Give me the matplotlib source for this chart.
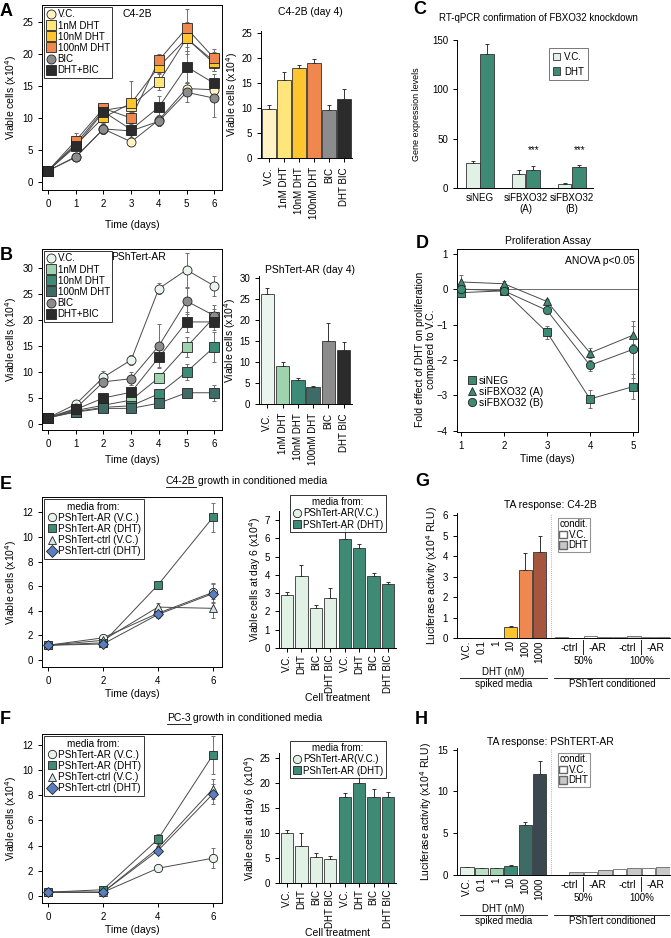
import matplotlib
matplotlib.use("Agg")
import matplotlib.pyplot as plt
from matplotlib.lines import Line2D
from matplotlib.patches import Patch
import numpy as np

plt.rcParams['font.family'] = ['Liberation Sans', 'DejaVu Sans']
plt.rcParams['font.size'] = 6.5
plt.rcParams['axes.linewidth'] = 0.7
plt.rcParams['xtick.major.width'] = 0.7
plt.rcParams['ytick.major.width'] = 0.7
plt.rcParams['xtick.major.size'] = 3
plt.rcParams['ytick.major.size'] = 3

W, H = 671, 938
fig = plt.figure(figsize=(W / 100, H / 100), dpi=100)

# ---------------- DATA ----------------
days7 = [0, 1, 2, 3, 4, 5, 6]
a_labels = ['V.C.', '1nM DHT', '10nM DHT', '100nM DHT', 'BIC', 'DHT+BIC']
a_vc = [1.8, 4.0, 8.3, 6.3, 9.7, 14.6, 14.4]
a_1nm = [1.8, 6.0, 11.2, 11.9, 15.6, 22.4, 18.5]
a_10nm = [1.8, 5.8, 10.1, 12.3, 18.0, 22.4, 18.8]
a_100nm = [1.8, 6.5, 11.5, 10.0, 19.0, 24.0, 19.3]
a_bic = [1.8, 3.9, 8.3, 8.0, 9.5, 14.0, 13.1]
a_dhtbic = [1.8, 5.6, 11.0, 8.2, 11.7, 18.0, 15.4]
a_err_vc = [0.2, 0.4, 0.8, 0.6, 0.8, 1.0, 1.0]
a_err_1nm = [0.2, 0.5, 0.7, 1.0, 1.2, 2.0, 1.2]
a_err_10nm = [0.2, 0.5, 0.8, 3.4, 1.0, 2.5, 1.5]
a_err_100nm = [0.2, 1.2, 0.6, 0.8, 1.0, 3.0, 1.5]
a_err_bic = [0.2, 0.4, 0.8, 1.0, 0.8, 1.5, 3.0]
a_err_dhtbic = [0.2, 0.6, 0.8, 1.5, 1.8, 2.5, 1.5]

a_bar_labels = ['V.C.', '1nM DHT', '10nM DHT', '100nM DHT', 'BIC', 'DHT BIC']
a_bar_vals = [9.7, 15.6, 18.0, 19.0, 9.5, 11.7]
a_bar_err = [0.9, 1.5, 0.6, 0.7, 1.1, 2.0]

b_vc = [1.2, 3.8, 9.0, 12.3, 26.0, 29.6, 26.5]
b_1nm = [1.2, 2.6, 3.6, 4.6, 8.9, 14.8, 20.5]
b_10nm = [1.2, 2.4, 3.2, 3.5, 5.8, 10.0, 14.8]
b_100nm = [1.2, 2.3, 3.0, 3.0, 4.0, 6.0, 6.0]
b_bic = [1.2, 3.0, 8.1, 8.7, 15.0, 23.6, 20.8]
b_dhtbic = [1.2, 2.8, 5.0, 6.1, 12.8, 19.6, 19.6]
b_err_vc = [0.3, 0.5, 1.2, 1.0, 1.0, 3.2, 2.0]
b_err_1nm = [0.3, 0.4, 0.5, 0.6, 0.8, 2.0, 1.5]
b_err_10nm = [0.3, 0.4, 0.4, 0.5, 0.4, 1.5, 2.8]
b_err_100nm = [0.3, 0.3, 0.3, 0.3, 0.4, 0.8, 1.5]
b_err_bic = [0.3, 0.6, 1.0, 1.2, 4.2, 2.5, 2.0]
b_err_dhtbic = [0.3, 0.5, 0.8, 0.8, 1.9, 2.0, 1.5]

b_bar_vals = [26.2, 9.0, 5.8, 4.0, 15.0, 12.8]
b_bar_err = [1.5, 1.0, 0.3, 0.4, 4.2, 1.9]

c_groups = ['siNEG', 'siFBXO32\n(A)', 'siFBXO32\n(B)']
c_vc = [25, 14, 4.5]
c_vc_err = [2, 4, 0.5]
c_dht = [136, 18, 21.5]
c_dht_err = [10, 4, 2]

d_days = [1, 2, 3, 4, 5]
d_sineg = [-0.1, -0.05, -1.22, -3.1, -2.75]
d_sia = [0.2, 0.15, -0.35, -1.8, -1.3]
d_sib = [0.0, -0.05, -0.6, -2.15, -1.7]
d_err_sineg = [0.1, 0.05, 0.18, 0.25, 0.35]
d_err_sia = [0.2, 0.08, 0.08, 0.15, 0.25]
d_err_sib = [0.1, 0.05, 0.08, 0.15, 0.8]

ef_days = [0, 2, 4, 6]
e_ar_vc = [1.2, 1.8, 3.8, 5.5]
e_ar_dht = [1.2, 1.4, 6.1, 11.6]
e_ctrl_vc = [1.2, 1.6, 4.3, 4.2]
e_ctrl_dht = [1.2, 1.3, 3.7, 5.4]
e_err = [0.1, 0.2, 0.3, 0.8]
e_err_dht = [0.1, 0.2, 0.2, 1.2]

treat_labels = ['V.C.', 'DHT', 'BIC', 'DHT BIC']
e_bar_vc = [2.9, 3.95, 2.2, 2.75]
e_bar_vc_err = [0.15, 0.6, 0.15, 0.55]
e_bar_dht = [5.95, 5.5, 3.95, 3.5]
e_bar_dht_err = [0.7, 0.2, 0.15, 0.1]

f_ar_vc = [0.3, 0.3, 2.2, 3.0]
f_ar_dht = [0.3, 0.5, 4.5, 11.2]
f_ctrl_vc = [0.3, 0.3, 3.8, 8.5]
f_ctrl_dht = [0.3, 0.3, 3.6, 8.1]
f_err = [0.05, 0.1, 0.2, 0.8]
f_err_dht = [0.05, 0.1, 0.4, 1.5]

f_bar_vc = [10.0, 7.5, 5.2, 4.9]
f_bar_vc_err = [0.6, 2.5, 0.8, 0.5]
f_bar_dht = [17.3, 20.1, 17.3, 17.3]
f_bar_dht_err = [0.8, 2.8, 1.5, 1.0]

ta_spiked_labels = ['V.C.', '0.1', '1', '10', '100', '1000']
ta_cond_labels = ['-ctrl', '-AR', '-ctrl', '-AR']
g_spiked = [0.02, 0.01, 0.02, 0.55, 3.3, 4.2]
g_spiked_err = [0.0, 0.0, 0.0, 0.03, 0.85, 0.8]
g_cond_vc = [0.03, 0.1, 0.05, 0.05]
g_cond_dht = [0.02, 0.05, 0.08, 0.03]
h_spiked = [0.95, 0.8, 0.8, 1.1, 6.0, 12.1]
h_spiked_err = [0.05, 0.05, 0.05, 0.1, 0.4, 1.5]
h_cond_vc = [0.05, 0.4, 0.75, 0.85]
h_cond_dht = [0.3, 0.55, 0.8, 1.0]

# ---------------- HELPERS ----------------
def px_axes(l, t, r, b):
    return fig.add_axes([l / W, 1 - b / H, (r - l) / W, (b - t) / H])

def ftext(x, y, s, **kw):
    kw.setdefault('ha', 'center')
    kw.setdefault('va', 'center')
    return fig.text(x / W, 1 - y / H, s, **kw)

def letter(x, y, s):
    ftext(x, y, s, fontsize=13, fontweight='bold', ha='left')

LINEC = '#4a4a4a'

def series(ax, x, y, e, marker, color, ms=6.5, z=3):
    ax.errorbar(x, y, yerr=e, fmt='none', ecolor='#707070', elinewidth=0.7,
                capsize=1.5, capthick=0.7, zorder=z - 1)
    ax.plot(x, y, '-', color=LINEC, lw=0.7, zorder=z - 1)
    ax.plot(x, y, linestyle='none', marker=marker, ms=ms, mfc=color,
            mec='#222222', mew=0.6, zorder=z)

def mk(marker, color, ms=6):
    return Line2D([], [], linestyle='none', marker=marker, ms=ms, mfc=color,
                  mec='#222222', mew=0.6)

def boxed_legend(ax, handles, labels, loc='upper left', title=None, fs=6.8, **kw):
    lg = ax.legend(handles, labels, loc=loc, frameon=True, fancybox=False,
                   edgecolor='black', borderpad=0.25, handletextpad=0.15,
                   labelspacing=0.12, handlelength=1.0, borderaxespad=0.2,
                   fontsize=fs, title=title, title_fontsize=fs, **kw)
    lg.get_frame().set_linewidth(0.7)
    return lg

def bar_axes_style(ax):
    ax.spines['top'].set_visible(False)
    ax.spines['right'].set_visible(False)
    ax.tick_params(labelsize=7)

# ---------------- PANEL A ----------------
a_cols = ['#FFF3C4', '#FFE57A', '#FFC52E', '#F0874F', '#8C8C8C', '#2B2B2B']
a_marks = ['o', 's', 's', 's', 'o', 's']
letter(0, 12, 'A')
ax = px_axes(42, 5, 222, 190)
for y, e, m, c in zip([a_vc, a_1nm, a_10nm, a_100nm, a_bic, a_dhtbic],
                      [a_err_vc, a_err_1nm, a_err_10nm, a_err_100nm, a_err_bic, a_err_dhtbic],
                      a_marks, a_cols):
    series(ax, days7, y, e, m, c)
ax.set_xlim(-0.22, 6.28)
ax.set_ylim(-1.2, 27.6)
ax.set_yticks([0, 5, 10, 15, 20, 25])
ax.set_xticks(days7)
ax.tick_params(labelsize=7)
ax.set_ylabel('Viable cells (x10$^4$)', fontsize=7.5, labelpad=2)
ax.set_xlabel('Time (days)', fontsize=7.5, labelpad=8)
ax.text(0.53, 0.95, 'C4-2B', transform=ax.transAxes, fontsize=7.5, ha='center', va='center')
boxed_legend(ax, [mk(m, c, 6.5) for m, c in zip(a_marks, a_cols)], a_labels, fs=7)

ax = px_axes(261, 30.5, 352, 158)
xb = np.arange(len(a_bar_vals))
ax.bar(xb, a_bar_vals, width=0.9, color=a_cols, edgecolor='#333333', linewidth=0.6)
ax.errorbar(xb, a_bar_vals, yerr=[np.zeros(6), a_bar_err], fmt='none', ecolor='#333333',
            elinewidth=0.7, capsize=1.5, capthick=0.7)
ax.set_xlim(-0.55, 5.55)
ax.set_ylim(0, 25.5)
ax.set_yticks([0, 5, 10, 15, 20, 25])
ax.set_xticks(xb)
ax.set_xticklabels(a_bar_labels, rotation=90)
bar_axes_style(ax)
ax.set_ylabel('Viable cells (x10$^4$)', fontsize=7.5, labelpad=1)
ftext(310, 12, 'C4-2B (day 4)', fontsize=7.5)

# ---------------- PANEL B ----------------
b_cols = ['#EAF5EE', '#9ED3AE', '#3C8B76', '#3E6B66', '#8C8C8C', '#2B2B2B']
letter(0, 256, 'B')
ax = px_axes(42, 249, 222, 430)
for y, e, m, c in zip([b_vc, b_1nm, b_10nm, b_100nm, b_bic, b_dhtbic],
                      [b_err_vc, b_err_1nm, b_err_10nm, b_err_100nm, b_err_bic, b_err_dhtbic],
                      a_marks, b_cols):
    series(ax, days7, y, e, m, c)
ax.set_xlim(-0.22, 6.28)
ax.set_ylim(-1.15, 33.6)
ax.set_yticks([0, 5, 10, 15, 20, 25, 30])
ax.set_xticks(days7)
ax.tick_params(labelsize=7)
ax.set_ylabel('Viable cells (x10$^4$)', fontsize=7.5, labelpad=2)
ax.set_xlabel('Time (days)', fontsize=7.5, labelpad=4)
ftext(111, 257, 'PShTert-AR', fontsize=7.5, ha='left')
boxed_legend(ax, [mk(m, c, 6.5) for m, c in zip(a_marks, b_cols)], a_labels, fs=7)

ax = px_axes(259, 276, 352, 404)
ax.bar(xb, b_bar_vals, width=0.9, color=b_cols, edgecolor='#333333', linewidth=0.6)
ax.errorbar(xb, b_bar_vals, yerr=[np.zeros(6), b_bar_err], fmt='none', ecolor='#333333',
            elinewidth=0.7, capsize=1.5, capthick=0.7)
ax.set_xlim(-0.55, 5.55)
ax.set_ylim(0, 30.5)
ax.set_yticks([0, 5, 10, 15, 20, 25, 30])
ax.set_xticks(xb)
ax.set_xticklabels(a_bar_labels, rotation=90)
bar_axes_style(ax)
ax.set_ylabel('Viable cells (x10$^4$)', fontsize=7.5, labelpad=1)
ftext(310, 270, 'PShTert-AR (day 4)', fontsize=7.5)

# ---------------- PANEL C ----------------
LIGHT = '#E2F1E5'
DARK = '#3E8A74'
letter(413, 9, 'C')
ftext(538, 18, 'RT-qPCR confirmation of FBXO32 knockdown', fontsize=7)
ax = px_axes(457, 40, 593, 188)
xc = np.arange(3)
ax.bar(xc - 0.16, c_vc, width=0.3, color=LIGHT, edgecolor='#333333', linewidth=0.6)
ax.bar(xc + 0.16, c_dht, width=0.3, color=DARK, edgecolor='#333333', linewidth=0.6)
ax.errorbar(xc - 0.16, c_vc, yerr=[np.zeros(3), c_vc_err], fmt='none', ecolor='#333333',
            elinewidth=0.7, capsize=1.5, capthick=0.7)
ax.errorbar(xc + 0.16, c_dht, yerr=[np.zeros(3), c_dht_err], fmt='none', ecolor='#333333',
            elinewidth=0.7, capsize=1.5, capthick=0.7)
for i in [1, 2]:
    ax.text(xc[i] + 0.16, 38, '***', ha='center', va='center', fontsize=7)
ax.set_xlim(-0.5, 2.46)
ax.set_ylim(0, 150)
ax.set_yticks([0, 50, 100, 150])
ax.set_xticks(xc)
ax.set_xticklabels(c_groups, fontsize=7)
ax.tick_params(axis='x', length=0)
bar_axes_style(ax)
ax.set_ylabel('Gene expression levels', fontsize=6.5, labelpad=8)
lg = ax.legend([Patch(facecolor=LIGHT, edgecolor='#333333', linewidth=0.6),
                Patch(facecolor=DARK, edgecolor='#333333', linewidth=0.6)],
               ['V.C.', 'DHT'], loc='upper right', bbox_to_anchor=(1.0, 0.98),
               frameon=True, fancybox=False, edgecolor='#555555', fontsize=7,
               handlelength=0.8, handleheight=0.8, handletextpad=0.4, borderpad=0.4)
lg.get_frame().set_linewidth(0.7)

# ---------------- PANEL D ----------------
letter(416, 244, 'D')
ftext(548, 241, 'Proliferation Assay', fontsize=7.5)
ax = px_axes(457, 249, 638, 432)
ax.axhline(0, color='#555555', lw=0.6, zorder=1)
series(ax, d_days, d_sineg, d_err_sineg, 's', DARK, ms=6)
series(ax, d_days, d_sia, d_err_sia, '^', DARK, ms=6)
series(ax, d_days, d_sib, d_err_sib, 'o', DARK, ms=6)
ax.set_xlim(0.907, 5.116)
ax.set_ylim(-4.03, 1.13)
ax.set_yticks([1, 0, -1, -2, -3, -4])
ax.set_xticks(d_days)
ax.tick_params(labelsize=7)
ax.set_xlabel('Time (days)', fontsize=7.5, labelpad=2)
ax.set_ylabel('Fold effect of DHT on proliferation\ncompared to V.C.', fontsize=7.5)
ax.yaxis.set_label_coords(-0.115, 0.45)
ax.text(0.98, 0.935, 'ANOVA p<0.05', transform=ax.transAxes, ha='right', va='center', fontsize=7.5)
lg = ax.legend([mk('s', DARK), mk('^', DARK), mk('o', DARK)],
               ['siNEG', 'siFBXO32 (A)', 'siFBXO32 (B)'], loc='lower left',
               bbox_to_anchor=(0.0, 0.08), frameon=False, fontsize=7.5,
               handletextpad=0.2, labelspacing=0.1, handlelength=1.0)

# ---------------- PANELS E, F ----------------
ef_marks = ['o', 's', '^', 'D']
ef_cols = ['#E8F3EC', DARK, '#D5E2EA', '#5B7EC0']
ef_labels = ['PShTert-AR (V.C.)', 'PShTert-AR (DHT)', 'PShTert-ctrl (V.C.)', 'PShTert-ctrl (DHT)']


def title_underlined(x, y, first, rest):
    t1 = ftext(x, y, first, fontsize=7.5, ha='left')
    r = fig.canvas.get_renderer()
    bb = t1.get_window_extent(renderer=r)
    w = bb.width
    ftext(x + w + 2, y, rest, fontsize=7.5, ha='left')
    fig.add_artist(Line2D([x / W, (x + w) / W], [1 - (y + 6) / H, 1 - (y + 6) / H],
                          color='black', lw=0.6))


def growth_panel(top, bot, zero_y, ppu, data, errs):
    ax = px_axes(42, top, 222, bot)
    for y, e, m, c in zip(data, errs, ef_marks, ef_cols):
        ms = 6 if m != 'D' else 5.5
        series(ax, ef_days, y, e, m, c, ms=ms)
    ax.set_xlim(-0.22, 6.33)
    ax.set_ylim(-(bot - zero_y) / ppu, (zero_y - top) / ppu)
    ax.set_yticks([0, 2, 4, 6, 8, 10, 12])
    ax.set_xticks(ef_days)
    ax.tick_params(labelsize=7)
    ax.set_ylabel('Viable cells (x10$^4$)', fontsize=7.5, labelpad=2)
    ax.set_xlabel('Time (days)', fontsize=7.5, labelpad=2)
    boxed_legend(ax, [mk(m, c, 6) for m, c in zip(ef_marks, ef_cols)], ef_labels,
                 title='media from:', fs=7.2)
    return ax


def treat_bars(top, bot, ymax, vc, vce, dht, dhte, yticks, leg_y):
    ax = px_axes(279, top, 396, bot)
    x1 = np.arange(4)
    x2 = np.arange(4, 8)
    ax.bar(x1, vc, width=0.85, color=LIGHT, edgecolor='#333333', linewidth=0.6)
    ax.bar(x2, dht, width=0.85, color=DARK, edgecolor='#333333', linewidth=0.6)
    ax.errorbar(x1, vc, yerr=[np.zeros(4), vce], fmt='none', ecolor='#333333',
                elinewidth=0.7, capsize=1.5, capthick=0.7)
    ax.errorbar(x2, dht, yerr=[np.zeros(4), dhte], fmt='none', ecolor='#333333',
                elinewidth=0.7, capsize=1.5, capthick=0.7)
    ax.set_xlim(-0.55, 7.55)
    ax.set_ylim(0, ymax)
    ax.set_yticks(yticks)
    ax.set_xticks(np.arange(8))
    ax.set_xticklabels(treat_labels * 2, rotation=90, fontsize=6.8)
    bar_axes_style(ax)
    ax.tick_params(axis='x', pad=1.5)
    ax.set_ylabel('Viable cells at day 6 (x10$^4$)', fontsize=7.5, labelpad=1)
    ax.set_xlabel('Cell treatment', fontsize=7.5, labelpad=0.5)
    lg = fig.legend([mk('o', LIGHT, 6), mk('s', DARK, 6)],
                    ['PShTert-AR(V.C.)', 'PShTert-AR (DHT)'], loc='upper left',
                    bbox_to_anchor=(285 / W, 1 - leg_y / H), frameon=True, fancybox=False,
                    edgecolor='black', borderpad=0.25, handletextpad=0.15, labelspacing=0.12,
                    handlelength=1.0, fontsize=7, title='media from:', title_fontsize=7)
    lg.get_frame().set_linewidth(0.7)
    return ax


letter(0, 484, 'E')
title_underlined(166, 481, 'C4-2B', 'growth in conditioned media')
growth_panel(497, 667, 660, 12.3, [e_ar_vc, e_ar_dht, e_ctrl_vc, e_ctrl_dht],
             [e_err, e_err_dht, e_err, e_err])
treat_bars(511, 648, 7.5, e_bar_vc, e_bar_vc_err, e_bar_dht, e_bar_dht_err,
           [0, 1, 2, 3, 4, 5, 6, 7], 490)

letter(0, 719, 'F')
title_underlined(167, 718, 'PC-3', 'growth in conditioned media')
growth_panel(734, 903, 896, 12.6, [f_ar_vc, f_ar_dht, f_ctrl_vc, f_ctrl_dht],
             [f_err, f_err_dht, f_err, f_err])
treat_bars(753, 883, 26, f_bar_vc, f_bar_vc_err, f_bar_dht, f_bar_dht_err,
           [0, 5, 10, 15, 20, 25], 736)

# ---------------- PANELS G, H ----------------
COND_VC = '#FFFFFF'
COND_DHT = '#C8C8C8'


def ta_panel(top, bot, ymax, yticks, spiked, spiked_err, cols, cvc, cdht, title, ty):
    ftext(550, ty, title, fontsize=7.5)
    ax = px_axes(457, top, 670, bot)
    hpx = bot - top
    def fy(px):
        return -px / hpx
    xs = np.arange(6)
    ax.bar(xs, spiked, width=0.92, color=cols, edgecolor='#333333', linewidth=0.6)
    ax.errorbar(xs, spiked, yerr=[np.zeros(6), spiked_err], fmt='none', ecolor='#333333',
                elinewidth=0.7, capsize=1.5, capthick=0.7)
    xv = np.array([6.5, 8.5, 10.5, 12.5])
    ax.bar(xv, cvc, width=0.92, color=COND_VC, edgecolor='#666666', linewidth=0.6)
    ax.bar(xv + 1, cdht, width=0.92, color=COND_DHT, edgecolor='#666666', linewidth=0.6)
    ax.axvline(5.75, color='#999999', lw=0.6, ls=(0, (1, 1.5)))
    ax.set_xlim(-0.7, 13.97)
    ax.set_ylim(0, ymax)
    ax.set_yticks(yticks)
    ax.set_xticks([])
    bar_axes_style(ax)
    ax.set_ylabel('Luciferase activity (x10$^4$ RLU)', fontsize=7.5, labelpad=2)
    tr = ax.get_xaxis_transform()
    for x, s in zip(xs, ta_spiked_labels):
        ax.text(x, fy(2), s, transform=tr, rotation=90, ha='center', va='top', fontsize=7.2)
    for x, s in zip(xv + 0.5, ta_cond_labels):
        ax.text(x, fy(10), s, transform=tr, ha='center', va='center', fontsize=7.5)
    for x in [8.0, 12.0]:
        ax.plot([x, x], [fy(2), fy(16)], transform=tr, color='black', lw=0.6, clip_on=False)
    for x, s in [(8, '50%'), (12, '100%')]:
        ax.text(x, fy(23), s, transform=tr, ha='center', va='center', fontsize=7)
    ax.text(2.5, fy(34), 'DHT (nM)', transform=tr, ha='center', va='center', fontsize=7)
    ax.plot([-0.5, 5.5], [fy(40), fy(40)], transform=tr, color='black', lw=0.6, clip_on=False)
    ax.plot([6.0, 13.9], [fy(40), fy(40)], transform=tr, color='black', lw=0.6, clip_on=False)
    ax.text(2.5, fy(46), 'spiked media', transform=tr, ha='center', va='center', fontsize=7)
    ax.text(10, fy(46), 'PShTert conditioned', transform=tr, ha='center', va='center', fontsize=7)
    lg = ax.legend([Patch(facecolor=COND_VC, edgecolor='#666666'),
                    Patch(facecolor=COND_DHT, edgecolor='#666666')], ['V.C.', 'DHT'],
                   loc='upper left', bbox_to_anchor=((553 - 457) / (670 - 457), 1.0),
                   frameon=True, fancybox=False, edgecolor='#777777', fontsize=7,
                   title='condit.', title_fontsize=7, handlelength=0.8, handleheight=0.8,
                   handletextpad=0.15, borderpad=0.15, labelspacing=0.05)
    lg.get_frame().set_linewidth(0.8)
    return ax


g_cols = ['#FFF5CF', '#FFF0B5', '#FFE57A', '#FFC52E', '#F0874F', '#A6553F']
h_cols = ['#E4F3E8', '#B9E1C4', '#9ED3AE', '#3C8B76', '#3E6B66', '#3B4850']
letter(415, 481, 'G')
ta_panel(513, 638, 6.1, [0, 1, 2, 3, 4, 5, 6], g_spiked, g_spiked_err, g_cols,
         g_cond_vc, g_cond_dht, 'TA response: C4-2B', 505)
letter(415, 719, 'H')
ta_panel(748, 875, 15.2, [0, 5, 10, 15], h_spiked, h_spiked_err, h_cols,
         h_cond_vc, h_cond_dht, 'TA response: PShTERT-AR', 742)

fig.savefig('out.png', dpi=100)
